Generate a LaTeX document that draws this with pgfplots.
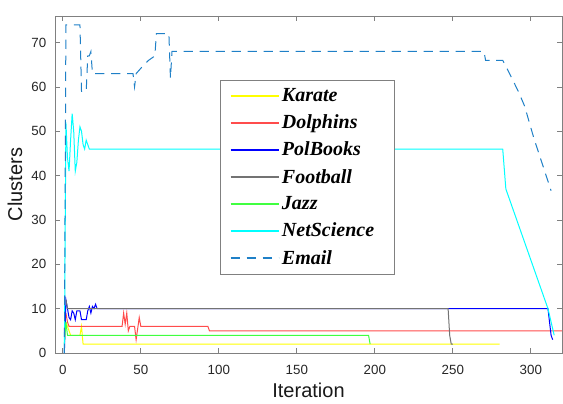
\documentclass[border=0pt]{standalone}
\usepackage{fontspec}
\setmainfont{Liberation Sans}
\newfontfamily\legfont{Liberation Serif}
\usepackage{pgfplots}
\pgfplotsset{compat=1.18}
\definecolor{emailc}{rgb}{0.12,0.5,0.78}
\definecolor{karc}{rgb}{1,1,0}
\definecolor{dolc}{rgb}{1,0.3,0.3}
\definecolor{polc}{rgb}{0,0,1}
\definecolor{fooc}{rgb}{0.45,0.45,0.45}
\definecolor{jazc}{rgb}{0.25,1,0.25}
\definecolor{netc}{rgb}{0,1,1}
\begin{document}
\begin{tikzpicture}
\useasboundingbox (-41.25pt,-37.5pt) rectangle (381pt,264.75pt);
\begin{axis}[
  scale only axis, width=380.25pt, height=252.75pt,
  xmin=-5, xmax=320, ymin=0, ymax=76,
  xtick={0,50,...,300}, ytick={0,10,...,70},
  tick align=inside, tick pos=both,
  major tick length=3.75pt,
  axis line style={black!50, line width=0.6pt},
  every tick/.style={black!50, line width=0.6pt},
  tick label style={font=\fontsize{10}{12}\selectfont, text=black!85},
  xticklabel style={yshift=-5.5pt},
  yticklabel style={xshift=-3pt},
  /pgf/number format/assume math mode=true,
  xlabel={Iteration}, ylabel={Clusters},
  label style={font=\fontsize{15}{18}\selectfont, text=black!90},
  xlabel style={at={(axis description cs:0.5,-0.1095)}, anchor=center},
  ylabel style={at={(axis description cs:-0.079,0.5)}, anchor=center},
  legend style={at={(0.3254,0.81)}, anchor=north west, draw=black!50, line width=0.6pt,
    font={\legfont\bfseries\itshape\fontsize{15pt}{17pt}\selectfont},
    inner ysep=4pt, inner xsep=7pt, row sep=4.5pt},
  legend cell align=left,
  legend image code/.code={\draw[#1, line width=1.2pt] (0pt,0pt) -- (36pt,0pt);},
  every axis plot/.append style={line width=0.75pt},
]
\addplot[draw=karc] coordinates {(2,7)(3,6)(5,4)(11,4)(12,6)(13,2)(280,2)};
\addlegendentry{Karate}
\addplot[draw=dolc] coordinates {(2,9)(3,7)(4,6)(38,6)(39,9)(40,6.5)(41,9)(42,5)(43,6)(46,6)(47,3)(49,8)(50,6)(93,6)(94,5)(320,5)};
\addlegendentry{Dolphins}
\addplot[draw=polc] coordinates {(1,0)(2,12)(3,10)(4,8)(5,7.5)(6,9.5)(7,9)(8,7.5)(9,9.5)(10,9.5)(11,9.5)(12,7.5)(15,7.5)(16,9.5)(17,10.5)(18,9)(19,10.5)(20,10)(21,11)(22,10)(311,10)(313,4)(314,3)};
\addlegendentry{PolBooks}
\addplot[draw=fooc] coordinates {(2,12)(3,10)(247,10)(248,4)(249,2)(250,2)};
\addlegendentry{Football}
\addplot[draw=jazc] coordinates {(1,2)(2,7)(3,4)(196,4)(197,2)};
\addlegendentry{Jazz}
\addplot[draw=netc] coordinates {(1,0)(2,52)(3,44)(4,41)(5,48)(6,54)(7,50)(8,41)(9,43)(10,48)(11,51)(12,50)(13,47)(14,46)(15,48)(16,47)(17,46)(282,46)(284,37)(311,10)(315,4)};
\addlegendentry{NetScience\kern6.5pt}
\addplot[draw=emailc, dash pattern=on 7pt off 5pt] coordinates {(1,0)(2,74)(11,74)(12,59)(15,59)(16,67)(17,67)(18,68)(19,63)(45,63)(46,60)(47,63)(52,65)(55,66)(59,67)(60,72)(68,72)(69,62)(70,68)(270,68)(271,66)(282,66)(285,64)(292,59)(296,55.7)(302,48.4)(313,36.6)};
\addlegendentry{Email}
\end{axis}
\end{tikzpicture}
\end{document}
